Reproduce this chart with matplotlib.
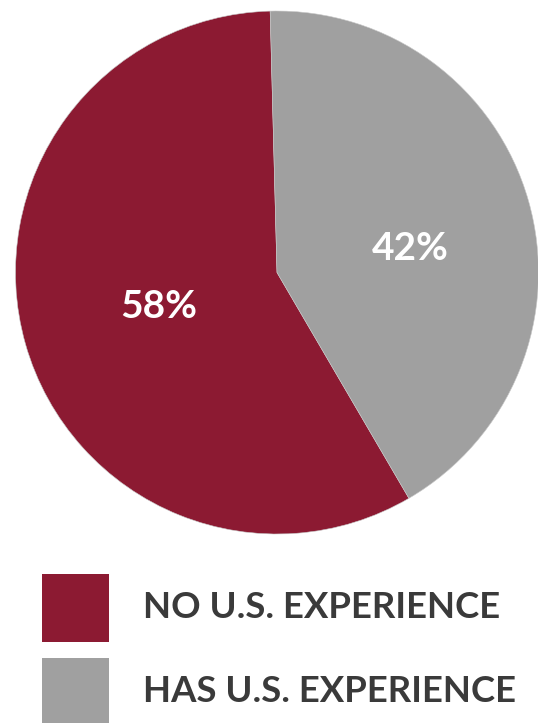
import matplotlib.pyplot as plt
from matplotlib.patches import Rectangle

labels = ['NO U.S. EXPERIENCE', 'HAS U.S. EXPERIENCE']
shares = [58, 42]
colors = ['#8c1a32', '#a0a0a0']

W, H = 538, 723
fig = plt.figure(figsize=(W / 100, H / 100), dpi=100)
ax = fig.add_axes([0, 0, 1, 1])

cx, cy, r = 277, H - 272.5, 261.5
wedges, _ = ax.pie(shares, colors=colors, startangle=91.5, counterclock=True,
                   center=(cx, cy), radius=r,
                   wedgeprops=dict(edgecolor='#c8c8c8', linewidth=0.4))

# percentage labels inside the slices
label_pos = [(159, H - 307), (410, H - 249)]
for v, (x, y) in zip(shares, label_pos):
    ax.text(x, y, f'{v}%', color='white', fontsize=28, fontweight='bold',
            family='Lato', ha='center', va='center')

# legend drawn as swatches + text
rows = [608, 692]
for lab, col, yc in zip(labels, colors, rows):
    ax.add_patch(Rectangle((42, H - yc - 34), 67, 68, facecolor=col, edgecolor='none'))
    ax.text(143, H - yc, lab, color='#3a3a3a', fontsize=26.3, fontweight='bold',
            family='Lato', ha='left', va='center')

ax.set_xlim(0, W)
ax.set_ylim(0, H)
ax.set_aspect('equal')
ax.axis('off')
fig.savefig('out.png', dpi=100)
